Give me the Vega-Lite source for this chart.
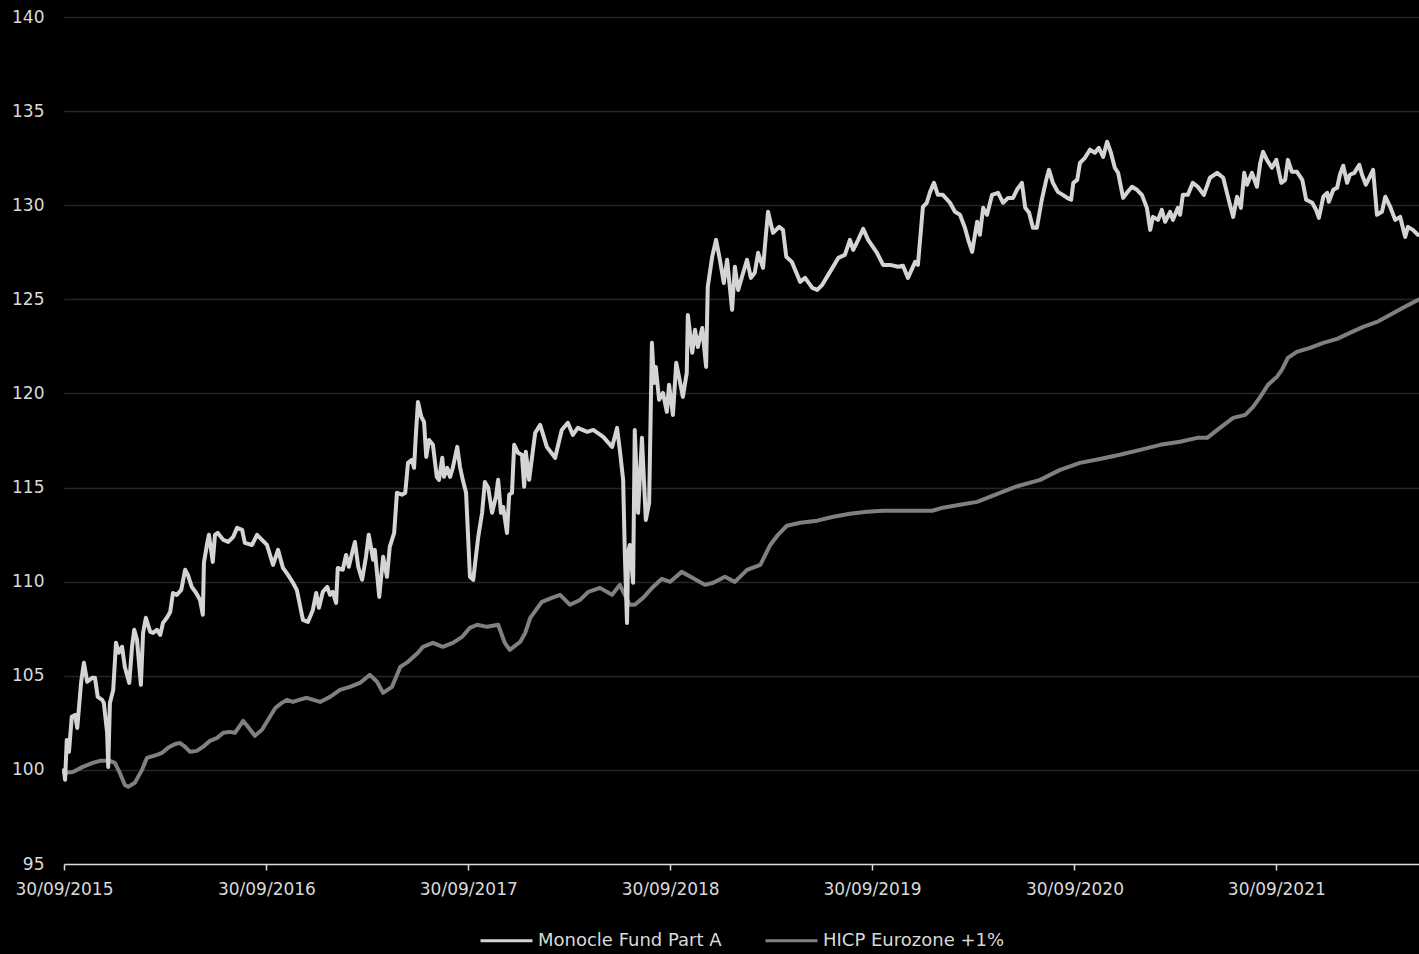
{
 "$schema": "https://vega.github.io/schema/vega-lite/v6.json",
 "width": 1355,
 "height": 847,
 "autosize": {"type": "none"},
 "padding": {"left": 64, "top": 17, "right": 0, "bottom": 90},
 "background": "#000000",
 "config": {
  "view": {"stroke": null},
  "font": "DejaVu Sans",
  "legend": {"layout": {"bottom": {"anchor": "middle"}}}
 },
 "datasets": {
  "fund": [
{"d":"2015-09-30","v":100.0},{"d":"2015-10-02","v":99.47},{"d":"2015-10-05","v":101.59},{"d":"2015-10-09","v":100.96},{"d":"2015-10-14","v":102.82},{"d":"2015-10-20","v":102.92},{"d":"2015-10-24","v":102.23},{"d":"2015-10-31","v":104.68},{"d":"2015-11-05","v":105.69},{"d":"2015-11-11","v":104.68},{"d":"2015-11-20","v":104.89},{"d":"2015-11-25","v":104.89},{"d":"2015-11-30","v":103.88},{"d":"2015-12-08","v":103.72},{"d":"2015-12-11","v":103.56},{"d":"2015-12-17","v":101.97},{"d":"2015-12-19","v":100.16},{"d":"2015-12-22","v":103.56},{"d":"2015-12-28","v":104.25},
{"d":"2016-01-02","v":106.75},{"d":"2016-01-07","v":106.22},{"d":"2016-01-13","v":106.54},{"d":"2016-01-18","v":105.47},{"d":"2016-01-26","v":104.62},{"d":"2016-01-31","v":106.54},{"d":"2016-02-04","v":107.44},{"d":"2016-02-09","v":106.91},{"d":"2016-02-16","v":104.52},{"d":"2016-02-20","v":107.28},{"d":"2016-02-25","v":108.08},{"d":"2016-03-04","v":107.33},{"d":"2016-03-09","v":107.28},{"d":"2016-03-16","v":107.44},{"d":"2016-03-22","v":107.17},{"d":"2016-03-27","v":107.81},{"d":"2016-04-03","v":108.08},{"d":"2016-04-09","v":108.39},{"d":"2016-04-14","v":109.40},{"d":"2016-04-21","v":109.30},{"d":"2016-04-29","v":109.56},{"d":"2016-05-06","v":110.63},{"d":"2016-05-11","v":110.36},{"d":"2016-05-18","v":109.72},{"d":"2016-05-26","v":109.40},{"d":"2016-06-02","v":109.03},{"d":"2016-06-07","v":108.24},{"d":"2016-06-09","v":111.00},{"d":"2016-06-15","v":112.06},{"d":"2016-06-18","v":112.49},{"d":"2016-06-25","v":111.05},{"d":"2016-06-29","v":112.49},{"d":"2016-07-04","v":112.59},{"d":"2016-07-14","v":112.22},{"d":"2016-07-23","v":112.11},{"d":"2016-08-01","v":112.38},{"d":"2016-08-08","v":112.86},{"d":"2016-08-17","v":112.75},{"d":"2016-08-22","v":112.06},{"d":"2016-09-04","v":111.95},{"d":"2016-09-13","v":112.49},{"d":"2016-09-22","v":112.22},{"d":"2016-10-01","v":111.95},{"d":"2016-10-12","v":110.89},{"d":"2016-10-21","v":111.69},{"d":"2016-10-30","v":110.73},{"d":"2016-11-08","v":110.36},{"d":"2016-11-17","v":109.94},{"d":"2016-11-24","v":109.56},{"d":"2016-12-05","v":107.97},{"d":"2016-12-14","v":107.86},{"d":"2016-12-23","v":108.50},{"d":"2016-12-29","v":109.40},
{"d":"2017-01-03","v":108.61},{"d":"2017-01-10","v":109.46},{"d":"2017-01-18","v":109.72},{"d":"2017-01-23","v":109.30},{"d":"2017-01-28","v":109.46},{"d":"2017-02-03","v":108.87},{"d":"2017-02-06","v":110.73},{"d":"2017-02-15","v":110.63},{"d":"2017-02-21","v":111.42},{"d":"2017-02-26","v":110.79},{"d":"2017-03-04","v":111.53},{"d":"2017-03-09","v":112.11},{"d":"2017-03-15","v":110.79},{"d":"2017-03-22","v":110.10},{"d":"2017-03-29","v":111.32},{"d":"2017-04-03","v":112.49},{"d":"2017-04-11","v":111.16},{"d":"2017-04-14","v":111.69},{"d":"2017-04-22","v":109.19},{"d":"2017-04-29","v":111.32},{"d":"2017-05-06","v":110.26},{"d":"2017-05-11","v":111.85},{"d":"2017-05-19","v":112.59},{"d":"2017-05-24","v":114.72},{"d":"2017-06-02","v":114.62},{"d":"2017-06-08","v":114.72},{"d":"2017-06-13","v":116.31},{"d":"2017-06-20","v":116.47},{"d":"2017-06-24","v":116.05},{"d":"2017-06-27","v":117.69},{"d":"2017-07-01","v":119.55},{"d":"2017-07-07","v":118.76},{"d":"2017-07-12","v":118.49},{"d":"2017-07-16","v":116.63},{"d":"2017-07-21","v":117.53},{"d":"2017-07-28","v":117.27},{"d":"2017-08-04","v":115.57},{"d":"2017-08-08","v":115.41},{"d":"2017-08-14","v":116.58},{"d":"2017-08-17","v":115.57},{"d":"2017-08-23","v":116.05},{"d":"2017-08-28","v":115.57},{"d":"2017-09-02","v":116.05},{"d":"2017-09-10","v":117.16},{"d":"2017-09-15","v":116.10},{"d":"2017-09-20","v":115.41},{"d":"2017-09-26","v":114.72},{"d":"2017-10-03","v":110.26},{"d":"2017-10-09","v":110.10},{"d":"2017-10-12","v":110.89},{"d":"2017-10-18","v":112.38},{"d":"2017-10-25","v":113.66},{"d":"2017-10-30","v":115.30},{"d":"2017-11-05","v":114.99},{"d":"2017-11-12","v":113.66},{"d":"2017-11-19","v":114.51},{"d":"2017-11-23","v":115.41},{"d":"2017-11-28","v":113.66},{"d":"2017-12-02","v":113.97},{"d":"2017-12-09","v":112.59},{"d":"2017-12-13","v":114.62},{"d":"2017-12-18","v":114.72},{"d":"2017-12-22","v":117.27},{"d":"2017-12-29","v":116.84},
{"d":"2018-01-05","v":116.74},{"d":"2018-01-09","v":115.04},{"d":"2018-01-12","v":116.90},{"d":"2018-01-18","v":115.41},{"d":"2018-01-29","v":117.91},{"d":"2018-02-07","v":118.33},{"d":"2018-02-19","v":117.16},{"d":"2018-03-06","v":116.58},{"d":"2018-03-18","v":118.06},{"d":"2018-03-29","v":118.44},{"d":"2018-04-07","v":117.80},{"d":"2018-04-16","v":118.17},{"d":"2018-05-03","v":117.96},{"d":"2018-05-14","v":118.06},{"d":"2018-06-01","v":117.69},{"d":"2018-06-17","v":117.16},{"d":"2018-06-26","v":118.17},{"d":"2018-07-01","v":117.00},{"d":"2018-07-07","v":115.41},{"d":"2018-07-10","v":111.53},{"d":"2018-07-14","v":107.81},{"d":"2018-07-16","v":111.53},{"d":"2018-07-19","v":111.95},{"d":"2018-07-25","v":109.94},{"d":"2018-07-28","v":118.06},{"d":"2018-08-03","v":113.66},{"d":"2018-08-10","v":117.64},{"d":"2018-08-17","v":113.28},{"d":"2018-08-23","v":114.19},{"d":"2018-08-28","v":122.69},{"d":"2018-09-01","v":120.56},{"d":"2018-09-04","v":121.41},{"d":"2018-09-10","v":119.66},{"d":"2018-09-17","v":120.03},{"d":"2018-09-24","v":119.02},{"d":"2018-09-28","v":120.46},{"d":"2018-10-05","v":118.86},{"d":"2018-10-11","v":121.63},{"d":"2018-10-16","v":120.88},{"d":"2018-10-23","v":119.82},{"d":"2018-10-30","v":121.09},{"d":"2018-11-01","v":124.17},{"d":"2018-11-09","v":122.16},{"d":"2018-11-14","v":123.38},{"d":"2018-11-19","v":122.47},{"d":"2018-11-27","v":123.48},{"d":"2018-12-04","v":121.41},{"d":"2018-12-07","v":125.66},{"d":"2018-12-15","v":127.26},{"d":"2018-12-22","v":128.16},{"d":"2018-12-29","v":127.10},
{"d":"2019-01-05","v":125.87},{"d":"2019-01-11","v":127.10},{"d":"2019-01-20","v":124.44},{"d":"2019-01-25","v":126.73},{"d":"2019-01-31","v":125.50},{"d":"2019-02-09","v":126.41},{"d":"2019-02-16","v":127.10},{"d":"2019-02-23","v":126.14},{"d":"2019-03-02","v":126.41},{"d":"2019-03-08","v":127.47},{"d":"2019-03-17","v":126.67},{"d":"2019-03-21","v":128.05},{"d":"2019-03-26","v":129.65},{"d":"2019-04-04","v":128.53},{"d":"2019-04-15","v":128.85},{"d":"2019-04-22","v":128.69},{"d":"2019-04-28","v":127.26},{"d":"2019-05-08","v":126.99},{"d":"2019-05-23","v":125.93},{"d":"2019-06-01","v":126.14},{"d":"2019-06-14","v":125.61},{"d":"2019-06-23","v":125.50},{"d":"2019-07-02","v":125.77},{"d":"2019-07-16","v":126.46},{"d":"2019-07-31","v":127.20},{"d":"2019-08-12","v":127.36},{"d":"2019-08-21","v":128.16},{"d":"2019-08-27","v":127.63},{"d":"2019-09-05","v":128.16},{"d":"2019-09-14","v":128.74},{"d":"2019-09-23","v":128.16},{"d":"2019-10-09","v":127.47},{"d":"2019-10-20","v":126.83},{"d":"2019-11-02","v":126.83},{"d":"2019-11-16","v":126.73},{"d":"2019-11-25","v":126.78},{"d":"2019-12-04","v":126.14},{"d":"2019-12-17","v":126.99},{"d":"2019-12-22","v":126.83},{"d":"2019-12-31","v":129.91},
{"d":"2020-01-07","v":130.13},{"d":"2020-01-13","v":130.71},{"d":"2020-01-20","v":131.19},{"d":"2020-01-27","v":130.55},{"d":"2020-02-05","v":130.55},{"d":"2020-02-18","v":130.13},{"d":"2020-02-27","v":129.65},{"d":"2020-03-07","v":129.49},{"d":"2020-03-16","v":128.80},{"d":"2020-03-22","v":128.16},{"d":"2020-03-29","v":127.52},{"d":"2020-04-07","v":129.12},{"d":"2020-04-12","v":128.43},{"d":"2020-04-18","v":129.86},{"d":"2020-04-25","v":129.49},{"d":"2020-05-04","v":130.55},{"d":"2020-05-15","v":130.66},{"d":"2020-05-24","v":130.13},{"d":"2020-06-02","v":130.39},{"d":"2020-06-11","v":130.39},{"d":"2020-06-18","v":130.82},{"d":"2020-06-27","v":131.19},{"d":"2020-07-03","v":129.86},{"d":"2020-07-10","v":129.60},{"d":"2020-07-17","v":128.80},{"d":"2020-07-24","v":128.80},{"d":"2020-08-02","v":130.29},{"d":"2020-08-10","v":131.35},{"d":"2020-08-15","v":131.88},{"d":"2020-08-22","v":131.19},{"d":"2020-08-31","v":130.71},{"d":"2020-09-09","v":130.55},{"d":"2020-09-17","v":130.39},{"d":"2020-09-24","v":130.29},{"d":"2020-09-28","v":131.19},{"d":"2020-10-05","v":131.35},{"d":"2020-10-10","v":132.25},{"d":"2020-10-19","v":132.52},{"d":"2020-10-28","v":132.95},{"d":"2020-11-06","v":132.79},{"d":"2020-11-13","v":133.05},{"d":"2020-11-21","v":132.57},{"d":"2020-11-28","v":133.37},{"d":"2020-12-05","v":132.79},{"d":"2020-12-12","v":131.99},{"d":"2020-12-18","v":131.72},{"d":"2020-12-27","v":130.39},
{"d":"2021-01-03","v":130.66},{"d":"2021-01-12","v":130.98},{"d":"2021-01-21","v":130.82},{"d":"2021-01-30","v":130.55},{"d":"2021-02-08","v":129.86},{"d":"2021-02-14","v":128.69},{"d":"2021-02-19","v":129.38},{"d":"2021-02-28","v":129.22},{"d":"2021-03-07","v":129.75},{"d":"2021-03-13","v":129.12},{"d":"2021-03-22","v":129.65},{"d":"2021-03-27","v":129.22},{"d":"2021-04-05","v":129.86},{"d":"2021-04-09","v":129.49},{"d":"2021-04-14","v":130.55},{"d":"2021-04-23","v":130.55},{"d":"2021-05-02","v":131.19},{"d":"2021-05-11","v":130.98},{"d":"2021-05-22","v":130.55},{"d":"2021-06-02","v":131.46},{"d":"2021-06-15","v":131.72},{"d":"2021-06-26","v":131.46},{"d":"2021-07-05","v":130.39},{"d":"2021-07-14","v":129.38},{"d":"2021-07-21","v":130.45},{"d":"2021-07-28","v":129.86},{"d":"2021-08-03","v":131.72},{"d":"2021-08-08","v":131.09},{"d":"2021-08-17","v":131.72},{"d":"2021-08-26","v":130.98},{"d":"2021-09-01","v":132.25},{"d":"2021-09-06","v":132.84},{"d":"2021-09-13","v":132.41},{"d":"2021-09-22","v":131.99},{"d":"2021-09-30","v":132.41},{"d":"2021-10-09","v":131.19},{"d":"2021-10-16","v":131.35},{"d":"2021-10-21","v":132.41},{"d":"2021-10-28","v":131.78},{"d":"2021-11-06","v":131.78},{"d":"2021-11-16","v":131.35},{"d":"2021-11-23","v":130.29},{"d":"2021-12-04","v":130.13},{"d":"2021-12-11","v":129.75},{"d":"2021-12-16","v":129.33},{"d":"2021-12-24","v":130.45},{"d":"2021-12-31","v":130.66},
{"d":"2022-01-03","v":130.18},{"d":"2022-01-11","v":130.82},{"d":"2022-01-18","v":130.93},{"d":"2022-01-23","v":131.62},{"d":"2022-01-29","v":132.10},{"d":"2022-02-05","v":131.19},{"d":"2022-02-10","v":131.62},{"d":"2022-02-18","v":131.72},{"d":"2022-02-27","v":132.15},{"d":"2022-03-04","v":131.62},{"d":"2022-03-11","v":131.09},{"d":"2022-03-24","v":131.88},{"d":"2022-03-31","v":129.49},{"d":"2022-04-09","v":129.65},{"d":"2022-04-15","v":130.45},{"d":"2022-04-24","v":129.91},{"d":"2022-05-03","v":129.22},{"d":"2022-05-12","v":129.38},{"d":"2022-05-21","v":128.32},{"d":"2022-05-26","v":128.85},{"d":"2022-06-04","v":128.69},{"d":"2022-06-13","v":128.43}
  ],
  "hicp": [
{"d":"2015-09-30","v":99.84},{"d":"2015-10-16","v":99.89},{"d":"2015-11-03","v":100.16},{"d":"2015-11-21","v":100.37},{"d":"2015-12-04","v":100.48},{"d":"2015-12-22","v":100.48},{"d":"2015-12-31","v":100.37},{"d":"2016-01-09","v":99.84},{"d":"2016-01-18","v":99.20},{"d":"2016-01-24","v":99.10},{"d":"2016-02-05","v":99.31},{"d":"2016-02-18","v":100.00},{"d":"2016-02-27","v":100.64},{"d":"2016-03-16","v":100.80},{"d":"2016-03-25","v":100.90},{"d":"2016-04-05","v":101.17},{"d":"2016-04-18","v":101.38},{"d":"2016-04-27","v":101.43},{"d":"2016-05-06","v":101.22},{"d":"2016-05-15","v":100.96},{"d":"2016-05-27","v":101.01},{"d":"2016-06-07","v":101.22},{"d":"2016-06-20","v":101.54},{"d":"2016-07-03","v":101.70},{"d":"2016-07-14","v":101.97},{"d":"2016-07-26","v":102.02},{"d":"2016-08-04","v":101.97},{"d":"2016-08-19","v":102.60},{"d":"2016-08-28","v":102.28},{"d":"2016-09-09","v":101.81},{"d":"2016-09-22","v":102.13},{"d":"2016-10-03","v":102.66},{"d":"2016-10-16","v":103.29},{"d":"2016-10-28","v":103.56},{"d":"2016-11-06","v":103.72},{"d":"2016-11-17","v":103.61},{"d":"2016-11-28","v":103.72},{"d":"2016-12-12","v":103.83},{"d":"2017-01-05","v":103.61},{"d":"2017-01-23","v":103.88},{"d":"2017-02-10","v":104.25},{"d":"2017-02-28","v":104.41},{"d":"2017-03-18","v":104.62},{"d":"2017-04-05","v":105.05},{"d":"2017-04-18","v":104.68},{"d":"2017-04-29","v":104.09},{"d":"2017-05-15","v":104.41},{"d":"2017-05-30","v":105.47},{"d":"2017-06-13","v":105.74},{"d":"2017-07-01","v":106.22},{"d":"2017-07-10","v":106.54},{"d":"2017-07-28","v":106.75},{"d":"2017-08-15","v":106.54},{"d":"2017-09-02","v":106.75},{"d":"2017-09-19","v":107.07},{"d":"2017-10-03","v":107.55},{"d":"2017-10-16","v":107.71},{"d":"2017-11-03","v":107.60},{"d":"2017-11-23","v":107.71},{"d":"2017-12-05","v":106.75},{"d":"2017-12-14","v":106.38},{"d":"2018-01-02","v":106.81},{"d":"2018-01-11","v":107.28},{"d":"2018-01-20","v":108.08},{"d":"2018-02-10","v":108.93},{"d":"2018-02-28","v":109.14},{"d":"2018-03-15","v":109.30},{"d":"2018-04-02","v":108.77},{"d":"2018-04-20","v":109.03},{"d":"2018-05-05","v":109.46},{"d":"2018-05-26","v":109.67},{"d":"2018-06-17","v":109.30},{"d":"2018-07-01","v":109.83},{"d":"2018-07-19","v":108.77},{"d":"2018-07-28","v":108.77},{"d":"2018-08-12","v":109.14},{"d":"2018-08-30","v":109.72},{"d":"2018-09-15","v":110.15},{"d":"2018-09-30","v":109.99},{"d":"2018-10-21","v":110.52},{"d":"2018-11-10","v":110.20},{"d":"2018-12-02","v":109.83},{"d":"2018-12-17","v":109.94},{"d":"2019-01-07","v":110.26},{"d":"2019-01-25","v":109.99},{"d":"2019-02-16","v":110.63},{"d":"2019-03-12","v":110.89},{"d":"2019-03-30","v":111.95},{"d":"2019-04-13","v":112.49},{"d":"2019-04-29","v":112.97},{"d":"2019-05-23","v":113.13},{"d":"2019-06-23","v":113.24},{"d":"2019-07-22","v":113.45},{"d":"2019-08-21","v":113.61},{"d":"2019-09-21","v":113.71},{"d":"2019-10-20","v":113.77},{"d":"2019-12-20","v":113.77},{"d":"2020-01-17","v":113.77},{"d":"2020-02-05","v":113.93},{"d":"2020-03-07","v":114.09},{"d":"2020-04-07","v":114.24},{"d":"2020-04-30","v":114.51},{"d":"2020-06-15","v":115.04},{"d":"2020-07-30","v":115.41},{"d":"2020-09-04","v":115.94},{"d":"2020-10-10","v":116.31},{"d":"2020-11-15","v":116.52},{"d":"2020-12-21","v":116.74},{"d":"2021-01-27","v":117.00},{"d":"2021-03-04","v":117.27},{"d":"2021-04-09","v":117.43},{"d":"2021-05-10","v":117.64},{"d":"2021-05-28","v":117.64},{"d":"2021-06-20","v":118.17},{"d":"2021-07-14","v":118.70},{"d":"2021-08-05","v":118.86},{"d":"2021-08-19","v":119.29},{"d":"2021-09-01","v":119.82},{"d":"2021-09-15","v":120.46},{"d":"2021-10-01","v":120.88},{"d":"2021-10-10","v":121.25},{"d":"2021-10-21","v":121.89},{"d":"2021-11-06","v":122.21},{"d":"2021-11-30","v":122.42},{"d":"2021-12-24","v":122.69},{"d":"2022-01-18","v":122.90},{"d":"2022-02-10","v":123.22},{"d":"2022-03-06","v":123.54},{"d":"2022-03-31","v":123.80},{"d":"2022-04-24","v":124.18},{"d":"2022-05-17","v":124.55},{"d":"2022-06-13","v":124.97}
  ]
 },
 "layer": [
  {
   "data": {"name": "hicp"},
   "mark": {"type": "line", "strokeWidth": 4, "strokeJoin": "round", "strokeCap": "round"},
   "encoding": {
    "x": {"field": "d", "type": "temporal"},
    "y": {"field": "v", "type": "quantitative"},
    "color": {"datum": "HICP Eurozone +1%"}
   }
  },
  {
   "data": {"name": "fund"},
   "mark": {"type": "line", "strokeWidth": 4, "strokeJoin": "round", "strokeCap": "round"},
   "encoding": {
    "x": {
     "field": "d", "type": "temporal",
     "scale": {"type": "utc", "domain": [{"year": 2015, "month": 9, "date": 30, "utc": true}, {"year": 2022, "month": 6, "date": 15, "utc": true}]},
     "axis": {
      "title": null,
      "values": [
       {"year": 2015, "month": 9, "date": 30, "utc": true},
       {"year": 2016, "month": 9, "date": 30, "utc": true},
       {"year": 2017, "month": 9, "date": 30, "utc": true},
       {"year": 2018, "month": 9, "date": 30, "utc": true},
       {"year": 2019, "month": 9, "date": 30, "utc": true},
       {"year": 2020, "month": 9, "date": 30, "utc": true},
       {"year": 2021, "month": 9, "date": 30, "utc": true}
      ],
      "format": "%d/%m/%Y",
      "grid": false,
      "domainColor": "#d9d9d9",
      "domainWidth": 1.5,
      "tickColor": "#d9d9d9",
      "tickWidth": 1.5,
      "tickSize": 6,
      "labelColor": "#d9d9d9",
      "labelFontSize": 17,
      "labelPadding": 11,
      "labelFlush": false,
      "labelOverlap": false
     }
    },
    "y": {
     "field": "v", "type": "quantitative",
     "scale": {"domain": [95, 140], "nice": false, "zero": false},
     "axis": {
      "title": null,
      "values": [95, 100, 105, 110, 115, 120, 125, 130, 135, 140],
      "domain": false,
      "ticks": false,
      "gridColor": "#262626",
      "gridWidth": 1.5,
      "labelColor": "#d9d9d9",
      "labelFontSize": 17,
      "labelPadding": 20
     }
    },
    "color": {
     "datum": "Monocle Fund Part A",
     "scale": {"domain": ["Monocle Fund Part A", "HICP Eurozone +1%"], "range": ["#d4d4d4", "#808080"]},
     "legend": {
      "title": null,
      "orient": "bottom",
      "direction": "horizontal",
      "symbolType": "stroke",
      "symbolSize": 2704,
      "symbolStrokeWidth": 3,
      "labelFontSize": 18,
      "labelColor": "#d9d9d9",
      "labelLimit": 0,
      "labelOffset": 4,
      "columnPadding": 37,
      "offset": 16,
      "padding": 0
     }
    }
   }
  }
 ]
}
